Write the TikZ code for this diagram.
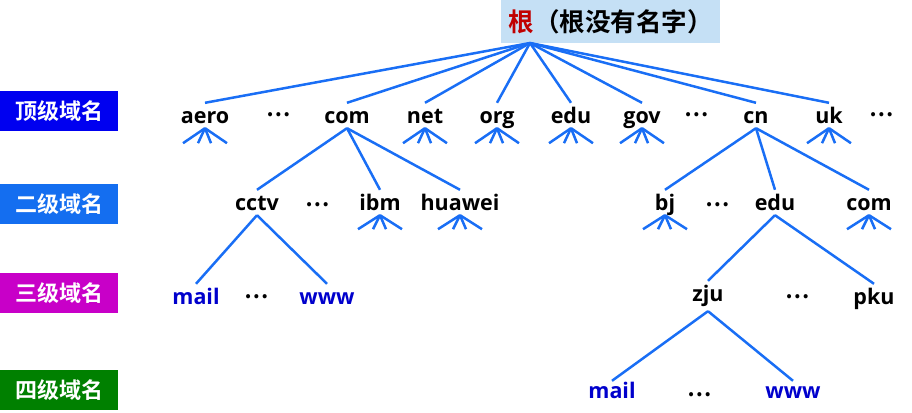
\documentclass[tikz,border=0pt]{standalone}
\usepackage{fontspec}
\setmainfont{Open Sans}
\newfontfamily\cjk{Noto Sans CJK SC}[BoldFont={Noto Sans CJK SC Bold}]
\definecolor{linkblue}{RGB}{25,110,245}
\definecolor{lvone}{RGB}{0,0,240}
\definecolor{lvtwo}{RGB}{20,110,240}
\definecolor{lvthree}{RGB}{200,0,200}
\definecolor{lvfour}{RGB}{0,128,0}
\definecolor{rootbg}{RGB}{197,224,245}
\definecolor{rootred}{RGB}{192,0,0}
\definecolor{hostblue}{RGB}{0,0,204}
\tikzset{
  link/.style={draw=linkblue,line width=2.5pt},
  dom/.style={font=\bfseries\fontsize{21.5}{21.5}\selectfont,inner sep=0pt,
    text height=20pt,text depth=5pt,anchor=base},
  host/.style={dom,text=hostblue},
  dots/.style={font=\cjk\bfseries\fontsize{22}{22}\selectfont,inner sep=0pt},
  level/.style={font=\cjk\bfseries\fontsize{22}{22}\selectfont,text=white,
    minimum width=118pt,minimum height=40pt,inner sep=0pt,anchor=west},
}
\newcommand\fan[2]{\foreach \dx in {-22,-7,6,22} {\draw[link] (#1.south) -- ++(\dx,#2);}}
\begin{document}
\begin{tikzpicture}[x=1pt,y=-1pt]
  \useasboundingbox (0,0) rectangle (912,412);
  \node[fill=rootbg,minimum width=219pt,minimum height=43pt,inner sep=0pt,anchor=north west,
    font=\cjk\bfseries\fontsize{25.5}{25.5}\selectfont] (root) at (501,0) {\textcolor{rootred}{根}（根没有名字）};
  \coordinate (top) at (530,43);
  \node[level,fill=lvone] (l1) at (0,111) {顶级域名};
  \node[level,fill=lvtwo] (l2) at (0,204) {二级域名};
  \node[level,fill=lvthree] (l3) at (0,293) {三级域名};
  \node[level,fill=lvfour] (l4) at (0,390) {四级域名};

  \node[dom] (aero) at (205,123) {aero};
  \node[dots] (d1a) at (279,115) {…};
  \node[dom] (com1) at (347,123) {com};
  \node[dom] (net) at (425,123) {net};
  \node[dom] (org) at (497,123) {org};
  \node[dom] (edu1) at (571,123) {edu};
  \node[dom] (gov) at (642,123) {gov};
  \node[dots] (d1b) at (697,115) {…};
  \node[dom] (cn) at (756,123) {cn};
  \node[dom] (uk) at (829,123) {uk};
  \node[dots] (d1c) at (882,115) {…};

  \node[dom] (cctv) at (257,210) {cctv};
  \node[dots] (d2a) at (318,205) {…};
  \node[dom] (ibm) at (380,210) {ibm};
  \node[dom] (huawei) at (460,210) {huawei};
  \node[dom] (bj) at (665,210) {bj};
  \node[dots] (d2b) at (718,205) {…};
  \node[dom] (edu2) at (775,210) {edu};
  \node[dom] (com2) at (869,210) {com};

  \node[host] (mail3) at (196,304) {mail};
  \node[dots] (d3a) at (257,297) {…};
  \node[host] (www3) at (327,304) {www};
  \node[dom,text depth=10pt] (zju) at (708,301) {zju};
  \node[dots] (d3b) at (798,297) {…};
  \node[dom] (pku) at (874,304) {pku};

  \node[host,text height=17pt] (mail4) at (612,398) {mail};
  \node[dots] (d4a) at (700,395) {…};
  \node[host,text height=17pt] (www4) at (793,398) {www};

  \foreach \n in {aero,com1,net,org,edu1,gov,cn,uk}
    \draw[link] (top) -- (\n.north);
  \foreach \n in {cctv,ibm,huawei}
    \draw[link] (com1.south) -- (\n.north);
  \foreach \n in {bj,edu2,com2}
    \draw[link] (cn.south) -- (\n.north);
  \foreach \n in {mail3,www3}
    \draw[link] (cctv.south) -- (\n.north);
  \foreach \n in {zju,pku}
    \draw[link] (edu2.south) -- (\n.north);
  \foreach \n in {mail4,www4}
    \draw[link] (zju.south) -- (\n.north);

  \foreach \n in {aero,net,org,edu1,gov,uk}
    {\fan{\n}{15}}
  \foreach \n in {ibm,huawei,bj,com2}
    {\fan{\n}{14}}
\end{tikzpicture}
\end{document}
